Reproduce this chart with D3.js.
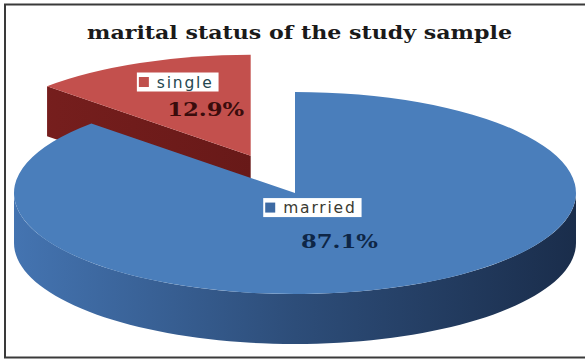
<!DOCTYPE html>
<html>
<head>
<meta charset="utf-8">
<script src="https://cdn.jsdelivr.net/npm/d3@7"></script>
<style>
  html, body { margin: 0; padding: 0; background: #fff; }
  svg { display: block; }
</style>
</head>
<body>
<svg id="chart" width="585" height="360"></svg>
<script>
// Marital status shares (percent of the study sample)
const categories = ["married", "single"];
const values = [87.1, 12.9];
const explodeBy = [0, 0.40];          // fraction of the radius a slice is pulled out

// Per-slice styling
const topColors  = ["#4a7ebb", "#c3504d"];
const wallLight  = ["#4474b1", "#781f1e"];
const wallDark   = ["#1a2d4b", "#561312"];
const markColors = ["#3d6aa3", "#c0504d"];
const textColors = ["#3a3a32", "#24474f"];
const pctColors  = ["#0e2646", "#3a0c0c"];

// Label placement: radius fraction along the slice bisector, plus a nudge
const labelRadius = [0.157, 0.785];
const labelNudge  = [[0, 0], [14, -1]];
const pctShift    = [[27, 40], [28, 34]];

const svg = d3.select("#chart");
const W = 585, H = 360;

// Frame
svg.append("rect")
  .attr("x", 5).attr("y", 4.5)
  .attr("width", W).attr("height", 353)
  .attr("fill", "#fff")
  .attr("stroke", "#3a3a3a").attr("stroke-width", 2);

// Title
svg.append("text")
  .attr("x", 299.5).attr("y", 39)
  .attr("text-anchor", "middle")
  .attr("font-family", "'DejaVu Serif', serif")
  .attr("font-weight", "bold")
  .attr("font-size", 18)
  .attr("textLength", 425)
  .attr("lengthAdjust", "spacingAndGlyphs")
  .attr("fill", "#1a1a1a")
  .text("marital status of the study sample");

// Pie geometry (elliptical projection of a tilted disc)
const cx = 295, cy = 193, rx = 281, ry = 101, depth = 50;

const pie = d3.pie().sort(null).value(d => d.value);
const arcs = pie(categories.map((c, i) => ({ name: c, value: values[i], i })));

function offsetOf(d) {
  const mid = (d.startAngle + d.endAngle) / 2;
  const e = explodeBy[d.data.i];
  return [rx * e * Math.sin(mid), -ry * e * Math.cos(mid)];
}
function proj(a, f, off) {
  return [cx + off[0] + rx * f * Math.sin(a), cy + off[1] - ry * f * Math.cos(a)];
}

const defs = svg.append("defs");
arcs.forEach(d => {
  const i = d.data.i;
  const g = defs.append("linearGradient")
    .attr("id", "wall" + i)
    .attr("gradientUnits", "userSpaceOnUse")
    .attr("x1", cx - rx).attr("x2", cx + rx).attr("y1", 0).attr("y2", 0);
  g.append("stop").attr("offset", "0%").attr("stop-color", wallLight[i]);
  g.append("stop").attr("offset", "50%").attr("stop-color", d3.interpolateRgb(wallLight[i], wallDark[i])(0.55));
  g.append("stop").attr("offset", "100%").attr("stop-color", wallDark[i]);
});

// Draw slices from back to front
const order = arcs.slice().sort((a, b) =>
  Math.cos((b.startAngle + b.endAngle) / 2) - Math.cos((a.startAngle + a.endAngle) / 2));

const line = d3.line();
const topArc = d3.arc().innerRadius(0).outerRadius(rx);

const pieG = svg.append("g");
order.forEach(d => {
  const i = d.data.i;
  const off = offsetOf(d);
  const g = pieG.append("g");

  // Cut faces (radial sides) that face the viewer
  const apex = proj(0, 0, off);
  const cutAngles = [];
  if (Math.sin(d.startAngle) < -1e-6) cutAngles.push(d.startAngle);
  if (Math.sin(d.endAngle) > 1e-6) cutAngles.push(d.endAngle);
  cutAngles.forEach(a => {
    const p = proj(a, 1, off);
    g.append("path")
      .attr("d", line([apex, p, [p[0], p[1] + depth], [apex[0], apex[1] + depth]]) + "Z")
      .attr("fill", "url(#wall" + i + ")");
  });

  // Outer wall on the near half of the disc
  const a0 = Math.max(d.startAngle, Math.PI / 2);
  const a1 = Math.min(d.endAngle, 3 * Math.PI / 2);
  if (a1 > a0) {
    const steps = d3.range(81).map(k => a0 + (a1 - a0) * k / 80);
    const top = steps.map(a => proj(a, 1, off));
    const bottom = steps.slice().reverse().map(a => {
      const p = proj(a, 1, off);
      return [p[0], p[1] + depth];
    });
    g.append("path")
      .attr("d", line(top.concat(bottom)) + "Z")
      .attr("fill", "url(#wall" + i + ")");
  }

  // Top face
  g.append("path")
    .attr("transform", `translate(${cx + off[0]},${cy + off[1]}) scale(1,${ry / rx})`)
    .attr("d", topArc(d))
    .attr("fill", topColors[i]);
});

// Data labels: legend key + category name in a white box, percentage below
const fmt = d3.format(".1f");
const labelG = svg.append("g");
arcs.forEach(d => {
  const i = d.data.i;
  const off = offsetOf(d);
  const mid = (d.startAngle + d.endAngle) / 2;
  const p = proj(mid, labelRadius[i], off);
  const bx = p[0] + labelNudge[i][0], by = p[1] + labelNudge[i][1];

  const g = labelG.append("g");
  const rect = g.append("rect").attr("fill", "#fff");
  const name = g.append("text")
    .attr("font-family", "'DejaVu Sans', sans-serif")
    .attr("font-size", 15.5)
    .attr("letter-spacing", 1.8)
    .attr("fill", textColors[i])
    .attr("y", by + 5.5)
    .text(d.data.name);
  const tw = name.node().getComputedTextLength();
  const key = 10, gap = 8, padL = 2, padR = 5;
  const boxW = padL + key + gap + tw + padR;
  const x0 = bx - boxW / 2;
  rect.attr("x", x0).attr("y", by - 9.5).attr("width", boxW).attr("height", 19);
  g.append("rect")
    .attr("x", x0 + padL).attr("y", by - 5)
    .attr("width", key).attr("height", key)
    .attr("fill", markColors[i]);
  name.attr("x", x0 + padL + key + gap);

  g.append("text")
    .attr("x", bx + pctShift[i][0]).attr("y", by + pctShift[i][1])
    .attr("text-anchor", "middle")
    .attr("font-family", "'DejaVu Serif', serif")
    .attr("font-weight", "bold")
    .attr("font-size", 18)
    .attr("textLength", 77)
    .attr("lengthAdjust", "spacingAndGlyphs")
    .attr("fill", pctColors[i])
    .text(fmt(d.data.value) + "%");
});
</script>
</body>
</html>
